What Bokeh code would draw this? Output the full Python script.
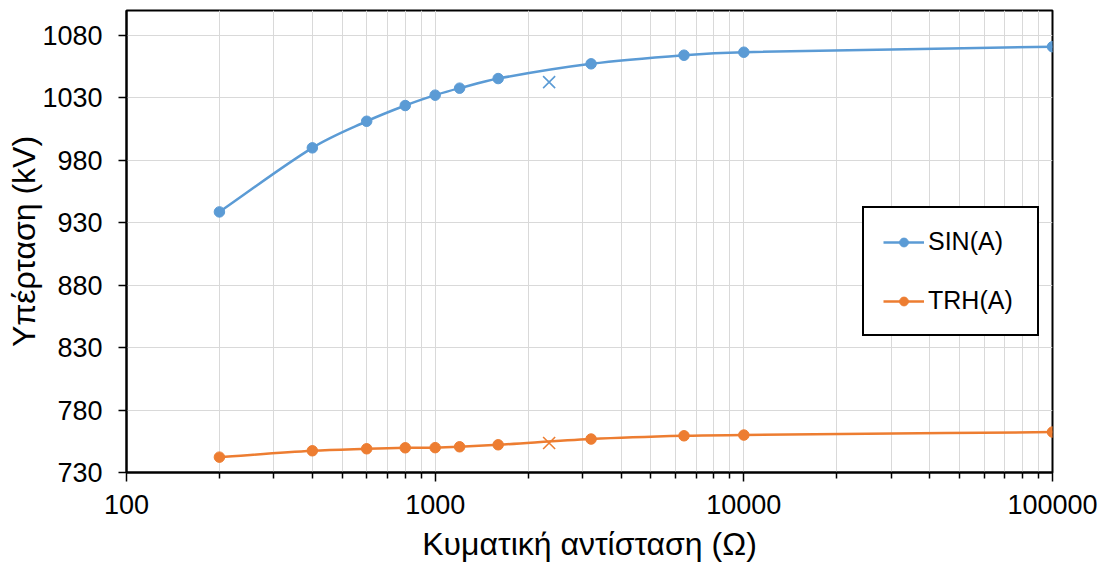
import numpy as np
from bokeh.plotting import figure
from bokeh.models import (Range1d, FixedTicker, NumeralTickFormatter, Legend, LegendItem)
from bokeh.embed import file_html
from bokeh.resources import INLINE

# ---- data ----
impedance = [200, 400, 600, 800, 1000, 1200, 1600, 3200, 6400, 10000, 100000]
sin_a = [938.7, 990.0, 1011.3, 1023.9, 1032.2, 1037.8, 1045.5, 1057.3, 1064.2, 1066.6, 1071.0]
trh_a = [742.3, 747.4, 749.0, 749.8, 749.9, 750.6, 752.2, 756.8, 759.4, 760.0, 762.4]
x_marker_impedance = [2340]
sin_x = [1042.6]
trh_x = [753.6]
y_ticks = [730, 780, 830, 880, 930, 980, 1030, 1080]
x_major = [100, 1000, 10000, 100000]
x_minor = [m * 10 ** k for k in range(2, 5) for m in range(2, 10)]

BLUE = "#5B9BD5"
ORANGE = "#ED7D31"
FONT = "Liberation Sans"
GRID = "#d9d9d9"


def smooth_segments(xs, ys):
    """Cubic Bezier control points (non-uniform Catmull-Rom) in log-x / y space."""
    lx = np.log10(np.asarray(xs, dtype=float))
    yy = np.asarray(ys, dtype=float)
    n = len(lx)
    m = np.zeros(n)
    for i in range(n):
        a = max(i - 1, 0)
        b = min(i + 1, n - 1)
        m[i] = (yy[b] - yy[a]) / (lx[b] - lx[a])
    out = dict(x0=[], y0=[], x1=[], y1=[], cx0=[], cy0=[], cx1=[], cy1=[])
    for i in range(n - 1):
        h = lx[i + 1] - lx[i]
        out["x0"].append(xs[i]); out["y0"].append(ys[i])
        out["x1"].append(xs[i + 1]); out["y1"].append(ys[i + 1])
        out["cx0"].append(10 ** (lx[i] + h / 3)); out["cy0"].append(yy[i] + m[i] * h / 3)
        out["cx1"].append(10 ** (lx[i + 1] - h / 3)); out["cy1"].append(yy[i + 1] - m[i + 1] * h / 3)
    return out


p = figure(
    x_axis_type="log",
    x_range=Range1d(100, 100000),
    y_range=Range1d(730, 1100),
    frame_width=926, frame_height=462,
    min_border_left=126, min_border_right=46,
    min_border_top=10, min_border_bottom=86,
    output_backend="svg", toolbar_location=None,
    background_fill_color="white", border_fill_color="white",
)

p.outline_line_color = "black"
p.outline_line_width = 2

# grids
p.xgrid.ticker = FixedTicker(ticks=x_major, minor_ticks=x_minor)
p.xgrid.grid_line_color = GRID
p.xgrid.grid_line_width = 1
p.xgrid.minor_grid_line_color = GRID
p.xgrid.minor_grid_line_width = 1
p.ygrid.ticker = FixedTicker(ticks=y_ticks)
p.ygrid.grid_line_color = GRID
p.ygrid.grid_line_width = 1

# x axis
xa = p.xaxis[0]
xa.ticker = FixedTicker(ticks=x_major, minor_ticks=x_minor)
xa.formatter = NumeralTickFormatter(format="0")
xa.axis_label = "Κυματική αντίσταση (Ω)"
xa.axis_line_color = "black"
xa.axis_line_width = 2
xa.major_tick_out = 9
xa.major_tick_in = 0
xa.minor_tick_out = 6
xa.minor_tick_in = 0
xa.major_tick_line_color = "black"
xa.minor_tick_line_color = "black"
xa.major_tick_line_width = 1.5
xa.minor_tick_line_width = 1.5
xa.major_label_text_font = FONT
xa.major_label_text_font_size = "27px"
xa.major_label_text_color = "black"
xa.major_label_standoff = 13
xa.axis_label_text_font = FONT
xa.axis_label_text_font_size = "32px"
xa.axis_label_text_font_style = "normal"
xa.axis_label_text_color = "black"
xa.axis_label_standoff = 9

# y axis
ya = p.yaxis[0]
ya.ticker = FixedTicker(ticks=y_ticks)
ya.axis_label = "Υπέρταση (kV)"
ya.axis_line_color = "black"
ya.axis_line_width = 2
ya.major_tick_out = 8
ya.major_tick_in = 0
ya.minor_tick_out = 0
ya.minor_tick_in = 0
ya.major_tick_line_color = "black"
ya.major_tick_line_width = 1.5
ya.major_label_text_font = FONT
ya.major_label_text_font_size = "27px"
ya.major_label_text_color = "black"
ya.major_label_standoff = 16
ya.axis_label_text_font = FONT
ya.axis_label_text_font_size = "32px"
ya.axis_label_text_font_style = "normal"
ya.axis_label_text_color = "black"
ya.axis_label_standoff = -3

# series
items = []
for xs, ys, color, name, xy in [
    (impedance, sin_a, BLUE, "SIN(A)", sin_x),
    (impedance, trh_a, ORANGE, "TRH(A)", trh_x),
]:
    seg = smooth_segments(xs, ys)
    p.bezier(x0=seg["x0"], y0=seg["y0"], x1=seg["x1"], y1=seg["y1"],
             cx0=seg["cx0"], cy0=seg["cy0"], cx1=seg["cx1"], cy1=seg["cy1"],
             line_color=color, line_width=2.5)
    # legend-only line (NaN values draw nothing inside the frame)
    lr_leg = p.line(xs, [np.nan] * len(xs), line_color=color, line_width=2.5)
    sc = p.scatter(xs, ys, marker="circle", size=10.5, fill_color=color, line_color=color)
    p.scatter(x_marker_impedance, xy, marker="x", size=17, line_color=color, line_width=1.6)
    items.append(LegendItem(label=name, renderers=[lr_leg, sc]))

legend = Legend(items=items, location=(736, 136))
legend.label_text_font = FONT
legend.label_text_font_size = "25px"
legend.label_text_color = "black"
legend.glyph_width = 41
legend.glyph_height = 22
legend.label_standoff = 4
legend.label_width = 90
legend.padding = 19
legend.spacing = 30
legend.border_line_color = "black"
legend.border_line_alpha = 1
legend.border_line_width = 2
legend.background_fill_color = "white"
legend.background_fill_alpha = 1
p.add_layout(legend, "center")

open("out.html", "w").write(file_html(p, INLINE))
